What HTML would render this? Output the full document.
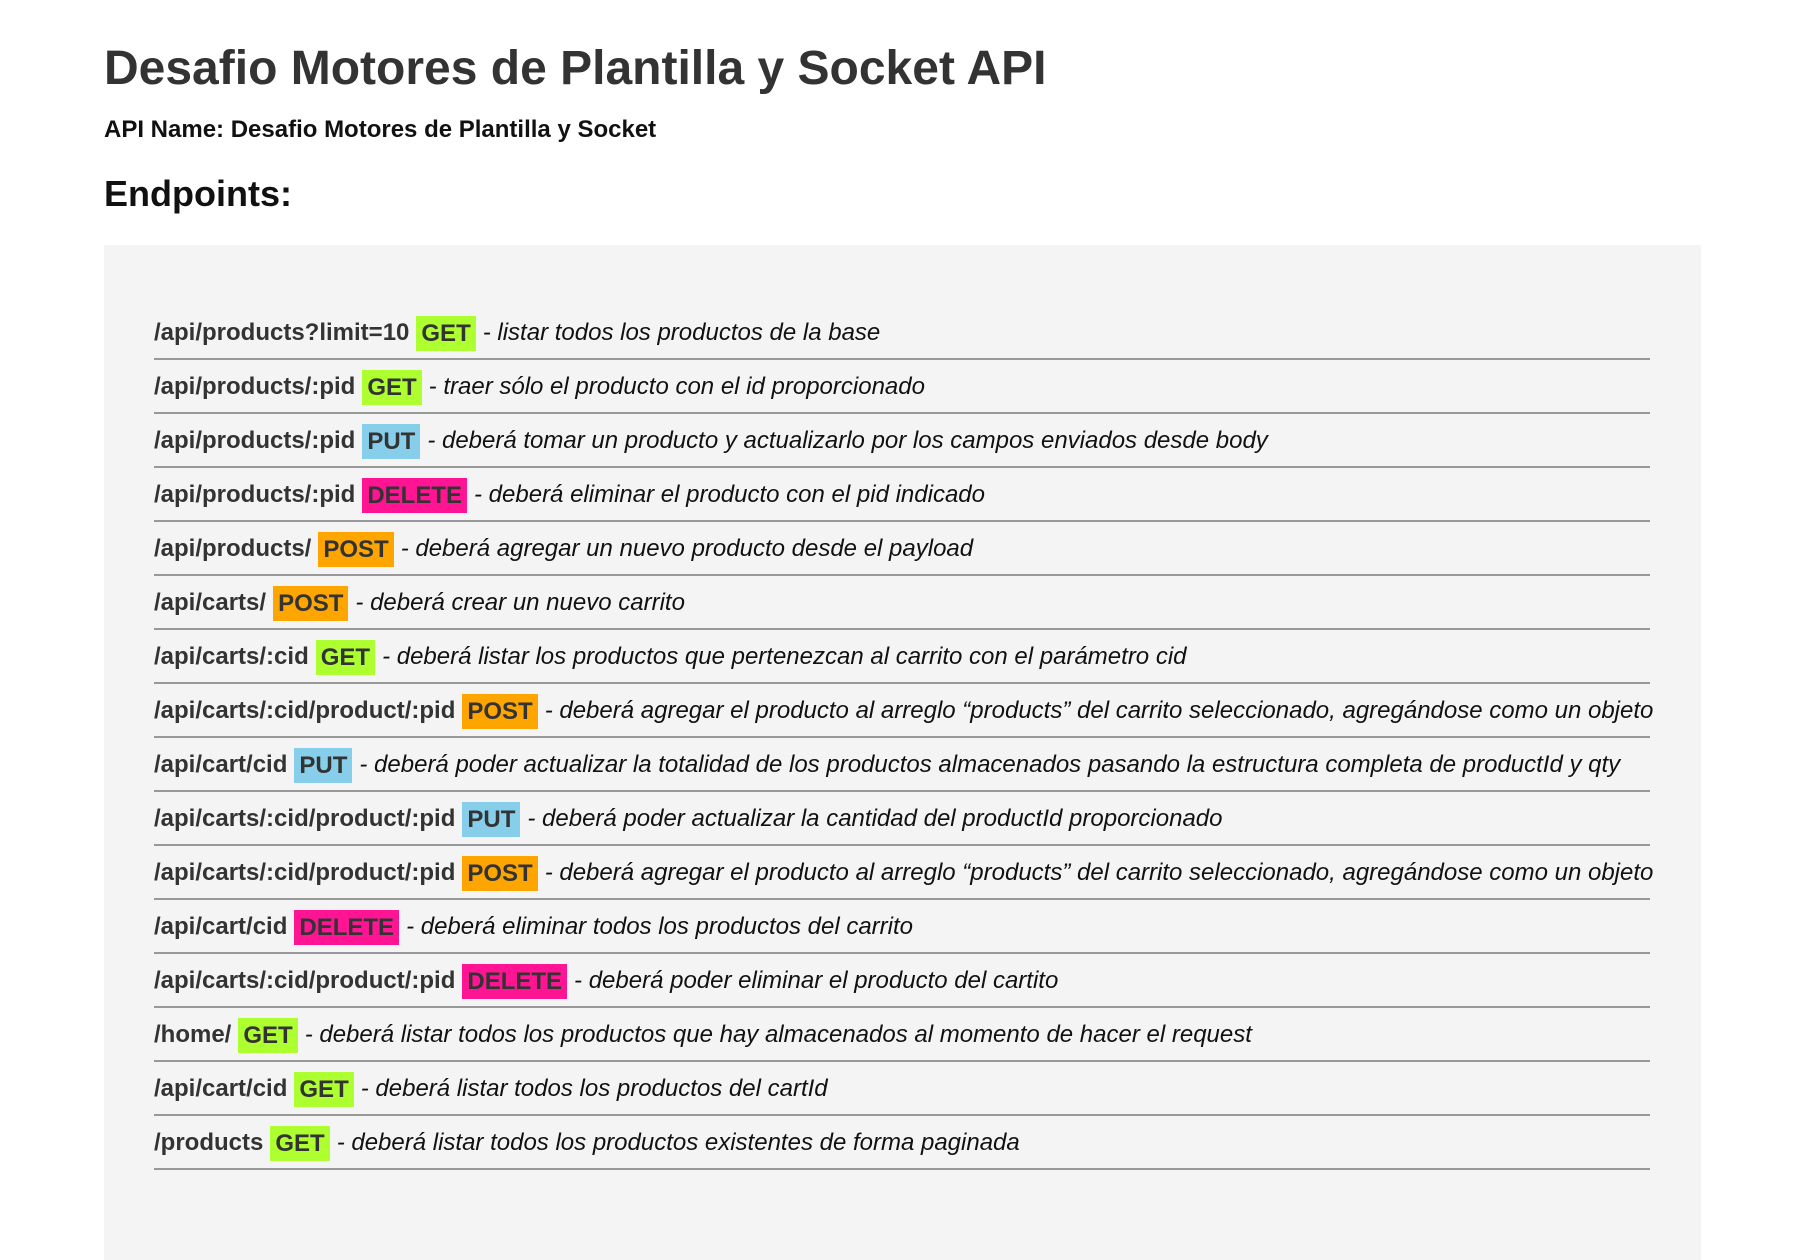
<!DOCTYPE html>
<html><head><meta charset="utf-8"><style>
body{margin:0;width:1819px;height:1260px;background:#fff;font-family:"Liberation Sans",Arial,sans-serif;color:#333;overflow:hidden;position:relative}
h1{position:absolute;left:104px;top:39px;margin:0;font-size:48px;line-height:60px;font-weight:bold;color:#333}
h4{position:absolute;left:104px;top:115px;margin:0;font-size:24px;line-height:30px;font-weight:bold;color:#111}
h2{position:absolute;left:104px;top:173px;margin:0;font-size:36px;line-height:42px;font-weight:bold;color:#111}
.panel{position:absolute;left:104px;top:245px;width:1597px;height:1015px;background:#f4f4f4}
.list{position:absolute;left:50px;top:61px;width:1496px}
.row{height:50px;padding-top:2px;border-bottom:2px solid #999;display:flex;align-items:center;font-size:24px;white-space:nowrap}
.p{font-weight:bold;color:#333}
.b{font-weight:bold;padding:0 5px;line-height:35px;margin:0 7px;color:#333}
.g{background:#adff2f}.u{background:#87ceeb}.d{background:#ff1493}.o{background:#ffa500}
.t{font-style:italic;color:#111}
</style></head><body>
<h1>Desafio Motores de Plantilla y Socket API</h1>
<h4>API Name: Desafio Motores de Plantilla y Socket</h4>
<h2>Endpoints:</h2>
<div class="panel"><div class="list">
<div class="row"><span class="p">/api/products?limit=10</span><span class="b g">GET</span><span class="t">- listar todos los productos de la base</span></div>
<div class="row"><span class="p">/api/products/:pid</span><span class="b g">GET</span><span class="t">- traer sólo el producto con el id proporcionado</span></div>
<div class="row"><span class="p">/api/products/:pid</span><span class="b u">PUT</span><span class="t">- deberá tomar un producto y actualizarlo por los campos enviados desde body</span></div>
<div class="row"><span class="p">/api/products/:pid</span><span class="b d">DELETE</span><span class="t">- deberá eliminar el producto con el pid indicado</span></div>
<div class="row"><span class="p">/api/products/</span><span class="b o">POST</span><span class="t">- deberá agregar un nuevo producto desde el payload</span></div>
<div class="row"><span class="p">/api/carts/</span><span class="b o">POST</span><span class="t">- deberá crear un nuevo carrito</span></div>
<div class="row"><span class="p">/api/carts/:cid</span><span class="b g">GET</span><span class="t">- deberá listar los productos que pertenezcan al carrito con el parámetro cid</span></div>
<div class="row"><span class="p">/api/carts/:cid/product/:pid</span><span class="b o">POST</span><span class="t">- deberá agregar el producto al arreglo “products” del carrito seleccionado, agregándose como un objeto</span></div>
<div class="row"><span class="p">/api/cart/cid</span><span class="b u">PUT</span><span class="t">- deberá poder actualizar la totalidad de los productos almacenados pasando la estructura completa de productId y qty</span></div>
<div class="row"><span class="p">/api/carts/:cid/product/:pid</span><span class="b u">PUT</span><span class="t">- deberá poder actualizar la cantidad del productId proporcionado</span></div>
<div class="row"><span class="p">/api/carts/:cid/product/:pid</span><span class="b o">POST</span><span class="t">- deberá agregar el producto al arreglo “products” del carrito seleccionado, agregándose como un objeto</span></div>
<div class="row"><span class="p">/api/cart/cid</span><span class="b d">DELETE</span><span class="t">- deberá eliminar todos los productos del carrito</span></div>
<div class="row"><span class="p">/api/carts/:cid/product/:pid</span><span class="b d">DELETE</span><span class="t">- deberá poder eliminar el producto del cartito</span></div>
<div class="row"><span class="p">/home/</span><span class="b g">GET</span><span class="t">- deberá listar todos los productos que hay almacenados al momento de hacer el request</span></div>
<div class="row"><span class="p">/api/cart/cid</span><span class="b g">GET</span><span class="t">- deberá listar todos los productos del cartId</span></div>
<div class="row"><span class="p">/products</span><span class="b g">GET</span><span class="t">- deberá listar todos los productos existentes de forma paginada</span></div>
</div></div>
</body></html>
